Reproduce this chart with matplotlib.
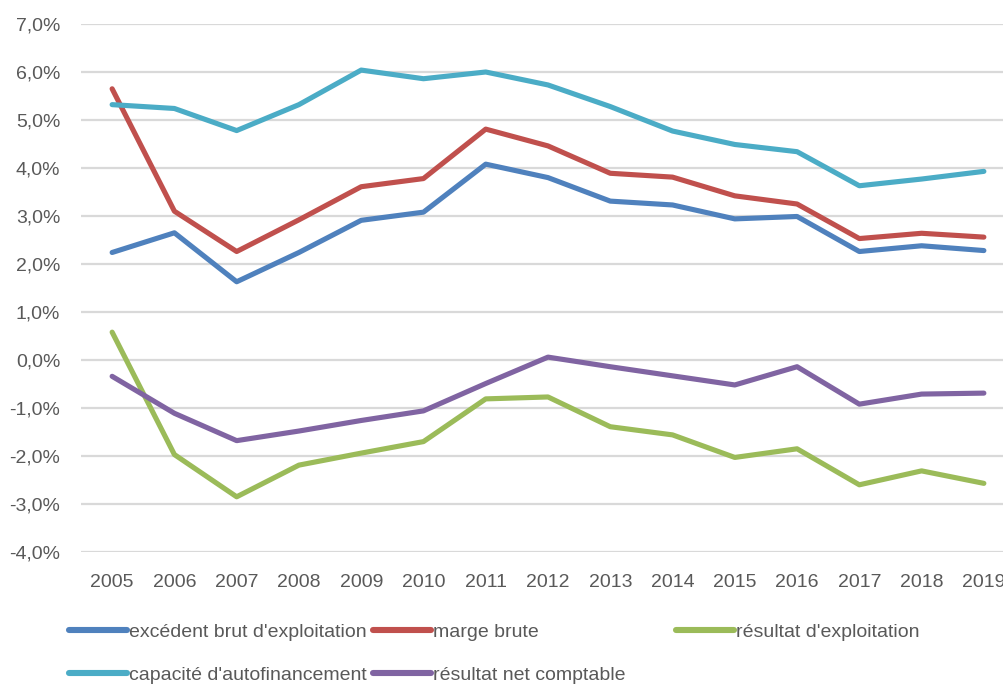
import matplotlib
matplotlib.use("Agg")
import matplotlib.pyplot as plt
from matplotlib.lines import Line2D
from matplotlib import font_manager

years = ["2005", "2006", "2007", "2008", "2009", "2010", "2011", "2012",
         "2013", "2014", "2015", "2016", "2017", "2018", "2019"]

ebe = [2.24, 2.65, 1.63, 2.24, 2.91, 3.08, 4.08, 3.80, 3.31, 3.23, 2.94, 2.99, 2.26, 2.38, 2.28]
marge_brute = [5.65, 3.10, 2.26, 2.92, 3.61, 3.78, 4.81, 4.46, 3.89, 3.81, 3.42, 3.25, 2.53, 2.64, 2.56]
resultat_expl = [0.58, -1.97, -2.85, -2.19, -1.94, -1.70, -0.81, -0.77, -1.39, -1.56, -2.03, -1.85, -2.60, -2.31, -2.57]
caf = [5.32, 5.24, 4.78, 5.32, 6.04, 5.86, 6.00, 5.73, 5.28, 4.77, 4.49, 4.34, 3.63, 3.77, 3.93]
resultat_net = [-0.34, -1.11, -1.68, -1.48, -1.26, -1.06, -0.49, 0.06, -0.14, -0.33, -0.52, -0.14, -0.92, -0.71, -0.69]

series_names = ["excédent brut d'exploitation", "marge brute", "résultat d'exploitation",
                "capacité d'autofinancement", "résultat net comptable"]
series_values = [ebe, marge_brute, resultat_expl, caf, resultat_net]
colors = ["#4F81BD", "#C0504D", "#9BBB59", "#4BACC6", "#8064A2"]

yticks = [-4, -3, -2, -1, 0, 1, 2, 3, 4, 5, 6, 7]
ytick_labels = ["-4,0%", "-3,0%", "-2,0%", "-1,0%", "0,0%", "1,0%", "2,0%",
                "3,0%", "4,0%", "5,0%", "6,0%", "7,0%"]

available = {f.name for f in font_manager.fontManager.ttflist}
fam = [f for f in ["Liberation Sans Narrow", "Liberation Sans", "DejaVu Sans"] if f in available]
plt.rcParams["font.family"] = fam
TXT = "#595959"
FS = 14

fig = plt.figure(figsize=(10.04, 6.85), dpi=100)
ax = fig.add_axes([81 / 1004, 1 - 552 / 685, 934 / 1004, 528 / 685])

x = list(range(len(years)))
lines = []
for name, vals, c in zip(series_names, series_values, colors):
    ln, = ax.plot(x, vals, color=c, lw=3.7, solid_capstyle="round",
                  solid_joinstyle="round", label=name, zorder=3)
    lines.append(ln)

ax.set_xlim(-0.5, len(years) - 0.5)
ax.set_ylim(-4, 7)
ax.set_yticks(yticks)
ax.set_yticklabels(ytick_labels)
ax.set_xticks(x)
ax.set_xticklabels(years)
ax.grid(axis="y", color="#D9D9D9", lw=1.6, zorder=0)
ax.set_axisbelow(True)
for s in ax.spines.values():
    s.set_visible(False)
ax.tick_params(axis="both", length=0, labelsize=FS, colors=TXT)
ax.tick_params(axis="y", pad=15)
ax.tick_params(axis="x", pad=15.5)

# legend entries placed like the reference (Excel layout)
pos = [(69, 632), (373, 632), (676, 632), (69, 675), (373, 675)]
for ln, (px, py) in zip(lines, pos):
    h = Line2D([], [], color=ln.get_color(), lw=4.4, solid_capstyle="round")
    fig.legend(handles=[h], labels=[ln.get_label()], loc="center left",
               bbox_to_anchor=(px / 1004, 1 - py / 685), frameon=False,
               borderpad=0, borderaxespad=0, handlelength=3.0, handletextpad=0.1,
               fontsize=FS, labelcolor=TXT)

fig.savefig("out.png", dpi=100)
